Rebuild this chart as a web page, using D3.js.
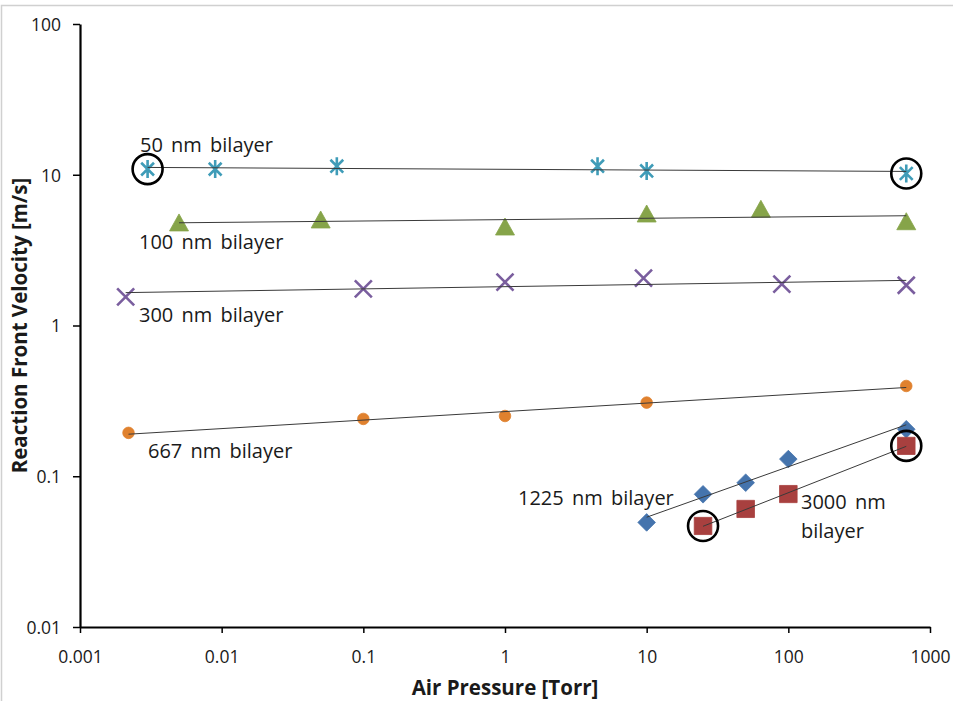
<!DOCTYPE html>
<html>
<head>
<meta charset="utf-8">
<script src="https://cdn.jsdelivr.net/npm/d3@7"></script>
<style>
  body { margin: 0; background: #fff; }
  svg { display: block; }
  text { font-family: "Open Sans", "Noto Sans", sans-serif; fill: #1a1a1a; }
</style>
</head>
<body>
<svg id="chart" width="953" height="701"></svg>
<script>
// Reaction front velocity vs. air pressure for each bilayer thickness
const pressure50 = [0.003, 0.009, 0.065, 4.5, 10, 680];
const velocity50 = [10.9, 10.9, 11.4, 11.4, 10.6, 10.2];

const pressure100 = [0.005, 0.05, 1, 10, 64, 680];
const velocity100 = [4.79, 5.01, 4.5, 5.49, 5.9, 4.88];

const pressure300 = [0.0021, 0.1, 1, 9.5, 90, 680];
const velocity300 = [1.55, 1.75, 1.94, 2.06, 1.88, 1.85];

const pressure667 = [0.0022, 0.1, 1, 10, 680];
const velocity667 = [0.194, 0.24, 0.251, 0.308, 0.397];

const pressure1225 = [10, 25, 50, 100, 680];
const velocity1225 = [0.0494, 0.0759, 0.0906, 0.13, 0.205];

const pressure3000 = [25, 50, 100, 680];
const velocity3000 = [0.0468, 0.0607, 0.0762, 0.159];

const xTickValues = [0.001, 0.01, 0.1, 1, 10, 100, 1000];
const xTickLabels = ["0.001", "0.01", "0.1", "1", "10", "100", "1000"];
const yTickValues = [0.01, 0.1, 1, 10, 100];
const yTickLabels = ["0.01", "0.1", "1", "10", "100"];

// circled points: [series name, point index]
const circledPoints = [["50 nm", 0], ["50 nm", 5], ["3000 nm", 0], ["3000 nm", 3]];

const series = [
  { name: "50 nm",   x: pressure50,   y: velocity50,   marker: "asterisk", color: "#3f9cb8",
    label: ["50 nm bilayer"], lx: 140, ly: [152] },
  { name: "100 nm",  x: pressure100,  y: velocity100,  marker: "triangle", color: "#86a449",
    label: ["100 nm bilayer"], lx: 139, ly: [249] },
  { name: "300 nm",  x: pressure300,  y: velocity300,  marker: "cross",    color: "#7a5e9e",
    label: ["300 nm bilayer"], lx: 139, ly: [322] },
  { name: "667 nm",  x: pressure667,  y: velocity667,  marker: "circle",   color: "#e0812e",
    label: ["667 nm bilayer"], lx: 148, ly: [458] },
  { name: "1225 nm", x: pressure1225, y: velocity1225, marker: "diamond",  color: "#4574ad",
    label: ["1225 nm bilayer"], lx: 518, ly: [505] },
  { name: "3000 nm", x: pressure3000, y: velocity3000, marker: "square",   color: "#a8403f",
    label: ["3000 nm", "bilayer"], lx: 801, ly: [509, 538] }
];

const svg = d3.select("#chart");

// chart frame
svg.append("rect")
  .attr("x", 1.5).attr("y", 5.5).attr("width", 960).attr("height", 720)
  .attr("fill", "none").attr("stroke", "#d0d0d0").attr("stroke-width", 1.5);

const x = d3.scaleLog().domain([0.001, 1000]).range([80, 930]);
const y = d3.scaleLog().domain([0.01, 100]).range([627, 24]);

// axes
const xAxis = svg.append("g").attr("transform", `translate(0,${y(0.01)})`)
  .call(d3.axisBottom(x).tickValues(xTickValues)
    .tickFormat((d, i) => xTickLabels[i]).tickSize(6).tickSizeOuter(0));
const yAxis = svg.append("g").attr("transform", `translate(${x(0.001)},0)`)
  .call(d3.axisLeft(y).tickValues(yTickValues)
    .tickFormat((d, i) => yTickLabels[i]).tickSize(7).tickSizeOuter(0));

[xAxis, yAxis].forEach(g => {
  g.select(".domain").attr("stroke", "#000").attr("stroke-width", 2.2);
  g.selectAll(".tick line").attr("stroke", "#000").attr("stroke-width", 1.5);
  g.selectAll(".tick text").attr("font-size", 17.5).attr("fill", "#1a1a1a")
    .attr("font-family", "\"Open Sans\", sans-serif");
});
xAxis.selectAll(".tick text").attr("dy", null).attr("y", 0).attr("transform", "translate(0,36)");
yAxis.selectAll(".tick text").attr("x", -19).attr("dy", "0.36em");

// axis titles
svg.append("text")
  .attr("x", (x.range()[0] + x.range()[1]) / 2).attr("y", 695)
  .attr("text-anchor", "middle").attr("font-size", 20.5).attr("font-weight", 700)
  .text("Air Pressure [Torr]");
svg.append("text")
  .attr("transform", `translate(27,${(y.range()[0] + y.range()[1]) / 2}) rotate(-90)`)
  .attr("text-anchor", "middle").attr("font-size", 20.5).attr("font-weight", 700)
  .text("Reaction Front Velocity [m/s]");

// marker shapes
function markerPath(type) {
  switch (type) {
    case "asterisk": {
      const a = 9, d = 6.4;
      return `M0,${-a}L0,${a}M${-d},${-d}L${d},${d}M${-d},${d}L${d},${-d}`;
    }
    case "cross": {
      const d = 8.5;
      return `M${-d},${-d}L${d},${d}M${-d},${d}L${d},${-d}`;
    }
    case "triangle": return "M0,-9L9.5,8L-9.5,8Z";
    case "diamond": return "M0,-8.8L8.8,0L0,8.8L-8.8,0Z";
    case "square": return "M-8.8,-8.6H8.8V8.6H-8.8Z";
    case "circle": return d3.symbol(d3.symbolCircle, 105)();
  }
}

const plot = svg.append("g");

// markers
series.forEach(s => {
  const pts = s.x.map((v, i) => [v, s.y[i]]);
  const stroked = s.marker === "asterisk" || s.marker === "cross";
  plot.append("g").selectAll("path").data(pts).join("path")
    .attr("transform", d => `translate(${x(d[0])},${y(d[1])})`)
    .attr("d", markerPath(s.marker))
    .attr("fill", stroked ? "none" : s.color)
    .attr("stroke", s.color)
    .attr("stroke-width", stroked ? 2.6 : 0.8);
});

// power-law trendlines (least squares in log-log space)
series.forEach(s => {
  const lx = s.x.map(Math.log10), ly = s.y.map(Math.log10);
  const mx = d3.mean(lx), my = d3.mean(ly);
  const slope = d3.sum(lx, (v, i) => (v - mx) * (ly[i] - my)) / d3.sum(lx, v => (v - mx) ** 2);
  const fit = v => Math.pow(10, my + slope * (Math.log10(v) - mx));
  const [x0, x1] = d3.extent(s.x);
  plot.append("line")
    .attr("x1", x(x0)).attr("y1", y(fit(x0)))
    .attr("x2", x(x1)).attr("y2", y(fit(x1)))
    .attr("stroke", "#3a3a3a").attr("stroke-width", 1);
});

// highlight rings
circledPoints.forEach(([name, i]) => {
  const s = series.find(d => d.name === name);
  plot.append("circle")
    .attr("cx", x(s.x[i])).attr("cy", y(s.y[i])).attr("r", 15)
    .attr("fill", "none").attr("stroke", "#000").attr("stroke-width", 2.6);
});

// series labels
series.forEach(s => {
  s.label.forEach((t, k) => {
    svg.append("text")
      .attr("x", s.lx).attr("y", s.ly[k])
      .attr("font-size", 20).attr("word-spacing", 3)
      .text(t);
  });
});
</script>
</body>
</html>
